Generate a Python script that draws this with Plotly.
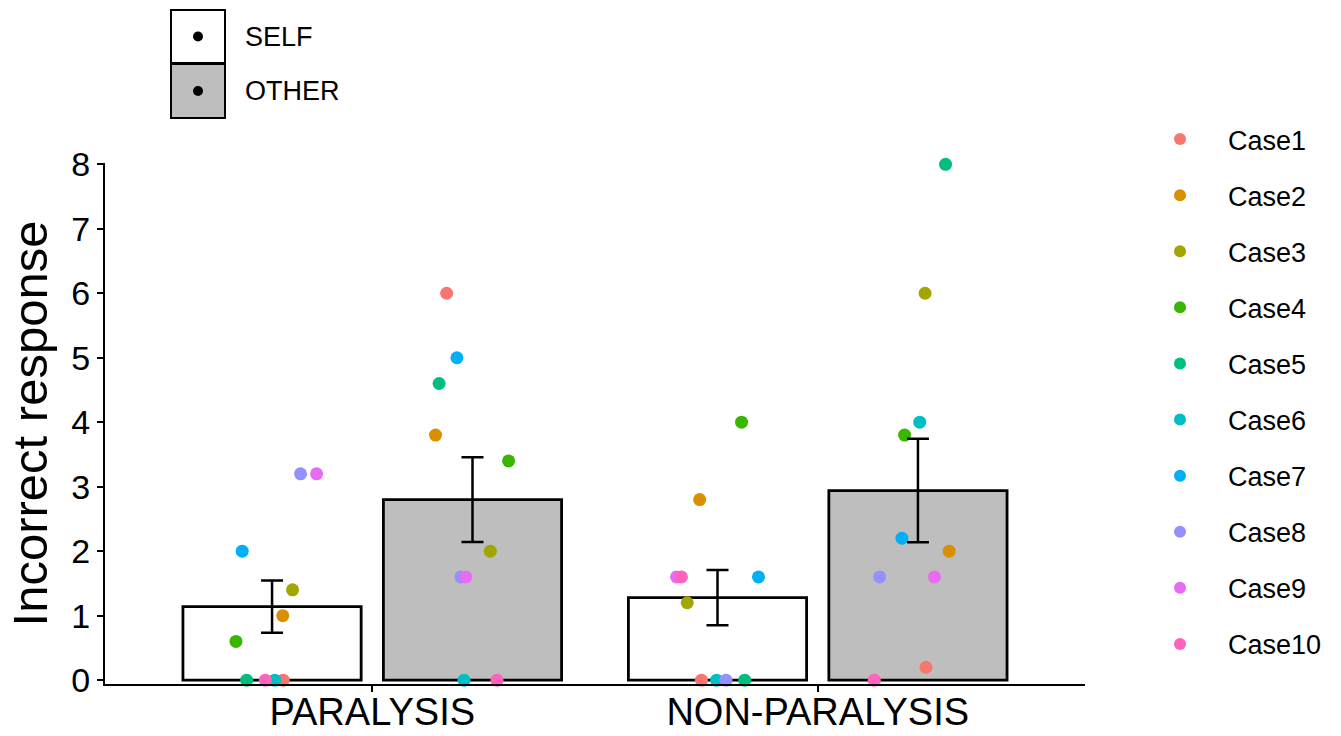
import plotly.graph_objects as go
import numpy as np

# ---------------- data ----------------
categories = ["PARALYSIS", "NON-PARALYSIS"]
conditions = ["SELF", "OTHER"]
cases = ["Case1", "Case2", "Case3", "Case4", "Case5",
         "Case6", "Case7", "Case8", "Case9", "Case10"]
case_colors = ["#F8766D", "#D89000", "#A3A500", "#39B600", "#00BF7D",
               "#00BFC4", "#00B0F6", "#9590FF", "#E76BF3", "#FF62BC"]

# incorrect responses per case (Case1..Case10)
paralysis_self = [0, 1.0, 1.4, 0.6, 0, 0, 2.0, 3.2, 3.2, 0]
paralysis_other = [6.0, 3.8, 2.0, 3.4, 4.6, 0, 5.0, 1.6, 1.6, 0]
nonparalysis_self = [0, 2.8, 1.2, 4.0, 0, 0, 1.6, 0, 1.6, 1.6]
nonparalysis_other = [0.2, 2.0, 6.0, 3.8, 8.0, 4.0, 2.2, 1.6, 1.6, 0]

# horizontal jitter of each point (category-width units)
jitter_paralysis_self = [0.025, 0.024, 0.046, -0.081, -0.057, 0.006, -0.067, 0.064, 0.100, -0.015]
jitter_paralysis_other = [-0.058, -0.083, 0.040, 0.081, -0.075, -0.019, -0.035, -0.026, -0.015, 0.055]
jitter_nonparalysis_self = [-0.036, -0.040, -0.068, 0.054, 0.061, -0.002, 0.092, 0.019, -0.092, -0.081]
jitter_nonparalysis_other = [0.018, 0.070, 0.016, -0.030, 0.062, 0.004, -0.036, -0.086, 0.037, -0.098]

y_ticks = [0, 1, 2, 3, 4, 5, 6, 7, 8]

# ---------------- derived ----------------
values = {
    ("PARALYSIS", "SELF"): paralysis_self,
    ("PARALYSIS", "OTHER"): paralysis_other,
    ("NON-PARALYSIS", "SELF"): nonparalysis_self,
    ("NON-PARALYSIS", "OTHER"): nonparalysis_other,
}
jitters = {
    ("PARALYSIS", "SELF"): jitter_paralysis_self,
    ("PARALYSIS", "OTHER"): jitter_paralysis_other,
    ("NON-PARALYSIS", "SELF"): jitter_nonparalysis_self,
    ("NON-PARALYSIS", "OTHER"): jitter_nonparalysis_other,
}
cat_pos = {c: i + 1 for i, c in enumerate(categories)}
BARGAP = 0.1
BARGROUPGAP = 0.111
dodge = (1 - BARGAP) / 4.0
cond_offset = {"SELF": -dodge, "OTHER": dodge}
bar_fill = {"SELF": "white", "OTHER": "#BEBEBE"}

FONT = "Arial, Liberation Sans, sans-serif"
W, H = 1341, 736
ML, MR, MT, MB = 105, 256, 163, 52
PW, PH = W - ML - MR, H - MT - MB


def px2paper(px, py):
    return (px - ML) / PW, (H - MB - py) / PH


fig = go.Figure()

means, ses = [], []
for cond in conditions:
    m, s = [], []
    for cat in categories:
        v = np.array(values[(cat, cond)], dtype=float)
        m.append(v.mean())
        s.append(v.std(ddof=1) / np.sqrt(len(v)))
    means.append(m)
    ses.append(s)
    fig.add_trace(go.Bar(
        x=[cat_pos[c] for c in categories], y=m, name=cond,
        marker=dict(color=bar_fill[cond], line=dict(color="black", width=2.8)),
        showlegend=False, hoverinfo="skip",
    ))

# individual case points
for i, case in enumerate(cases):
    xs, ys = [], []
    for cat in categories:
        for cond in conditions:
            xs.append(cat_pos[cat] + cond_offset[cond] + jitters[(cat, cond)][i])
            ys.append(values[(cat, cond)][i])
    fig.add_trace(go.Scatter(
        x=xs, y=ys, mode="markers", name=case,
        marker=dict(color=case_colors[i], size=13, line=dict(width=0)),
        legendgroup=case, cliponaxis=False,
    ))

# error bars (mean ± SE) drawn above points
for ci, cond in enumerate(conditions):
    fig.add_trace(go.Scatter(
        x=[cat_pos[c] + cond_offset[cond] for c in categories], y=means[ci],
        mode="markers", marker=dict(size=1, opacity=0), showlegend=False,
        hoverinfo="skip", cliponaxis=False,
        error_y=dict(type="data", array=ses[ci], color="black", thickness=2.5, width=11),
    ))

# SELF / OTHER key (box with dot)
shapes, annotations = [], []
key_rows = [("SELF", "white", 10, 63), ("OTHER", "#BEBEBE", 64, 118)]
for label, fill, top, bot in key_rows:
    x0, y0 = px2paper(171, bot)
    x1, y1 = px2paper(225, top)
    shapes.append(dict(type="rect", xref="paper", yref="paper", x0=x0, x1=x1, y0=y0, y1=y1,
                       fillcolor=fill, line=dict(color="black", width=2)))
    cy = (top + bot) / 2
    dx0, dy0 = px2paper(193, cy + 5)
    dx1, dy1 = px2paper(203, cy - 5)
    shapes.append(dict(type="circle", xref="paper", yref="paper", x0=dx0, x1=dx1, y0=dy0, y1=dy1,
                       fillcolor="black", line=dict(color="black", width=0)))
    tx, ty = px2paper(243, cy)
    annotations.append(dict(text=label, xref="paper", yref="paper", x=tx, y=ty,
                            xanchor="left", yanchor="middle", showarrow=False,
                            font=dict(size=27, color="black", family=FONT)))

lx, ly = px2paper(1132, 115)
fig.update_layout(
    width=W, height=H,
    margin=dict(l=ML, r=MR, t=MT, b=MB, autoexpand=False),
    plot_bgcolor="white", paper_bgcolor="white",
    barmode="group", bargap=BARGAP, bargroupgap=BARGROUPGAP,
    font=dict(family=FONT, color="black"),
    shapes=shapes, annotations=annotations,
    legend=dict(x=lx, y=ly, xanchor="left", yanchor="top",
                font=dict(size=27, family=FONT, color="black"),
                tracegroupgap=18, itemsizing="constant", itemwidth=86,
                maxheight=720, bgcolor="rgba(0,0,0,0)"),
    xaxis=dict(range=[0.4, 2.6], tickmode="array", tickvals=[cat_pos[c] for c in categories],
               ticktext=categories, showline=True, linecolor="black", linewidth=2,
               ticks="outside", ticklen=6, tickwidth=1.5, tickcolor="black",
               showgrid=False, zeroline=False, automargin=False, ticklabelstandoff=-13,
               tickfont=dict(size=38, family=FONT, color="black")),
    yaxis=dict(range=[-0.06, 8.02], tickmode="array", tickvals=y_ticks,
               showline=True, linecolor="black", linewidth=2,
               ticks="outside", ticklen=6, tickwidth=1.5, tickcolor="black",
               showgrid=False, zeroline=False, automargin=False,
               tickfont=dict(size=34, family=FONT, color="black"),
               title=dict(text="Incorrect response", standoff=8,
                          font=dict(size=49, family=FONT, color="black"))),
)

fig.write_html("out.html", config={"displayModeBar": False},
               post_script="document.body.style.margin='0px';document.body.style.overflow='hidden';")
